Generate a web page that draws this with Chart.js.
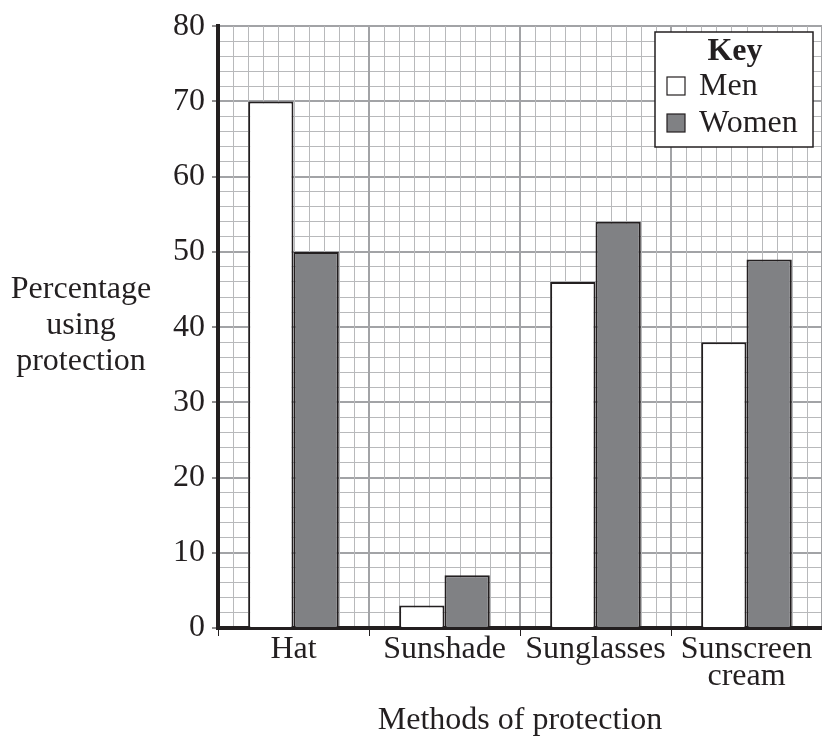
<!DOCTYPE html>
<html>
<head>
<meta charset="utf-8">
<script src="https://cdn.jsdelivr.net/npm/chart.js@4"></script>
<style>
  html, body { margin: 0; padding: 0; background: #fff; }
  #wrap { width: 822px; height: 742px; }
</style>
</head>
<body>
<div id="wrap"><canvas id="chart" width="822" height="742"></canvas></div>
<script>
// chart data
const categories = ['Hat', 'Sunshade', 'Sunglasses', ['Sunscreen', 'cream']];
const menValues = [70, 3, 46, 38];
const womenValues = [50, 7, 54, 49];
const seriesNames = ['Men', 'Women'];
const yTitleLines = ['Percentage', 'using', 'protection'];
const xTitle = 'Methods of protection';
const keyTitle = 'Key';

const INK = '#231f20';
const FONT = "'Liberation Serif', 'Times New Roman', serif";
const MINOR = '#b8b9bb';
const MAJOR = '#a2a3a6';
const CELLS_PER_CATEGORY = 10;

// vertical squared-paper lines, split from the category scale
const paperGrid = {
    id: 'paperGrid',
    beforeDatasetsDraw: (chart) => {
        const x = chart.scales.x;
        const area = chart.chartArea;
        const ctx = chart.ctx;
        const step = x.getPixelForValue(1) - x.getPixelForValue(0);
        ctx.save();
        for (let i = 0; i < categories.length; i++) {
            const left = x.getPixelForValue(i) - step / 2;
            for (let j = 1; j <= CELLS_PER_CATEGORY; j++) {
                const major = j === CELLS_PER_CATEGORY;
                const px = Math.round(left + step * j / CELLS_PER_CATEGORY) + (major ? 0 : 0.5);
                ctx.strokeStyle = major ? MAJOR : MINOR;
                ctx.lineWidth = major ? 2 : 1;
                ctx.beginPath();
                ctx.moveTo(px, area.top);
                ctx.lineTo(px, area.bottom - 2);
                ctx.stroke();
            }
        }
        ctx.restore();
    }
};

// Y title (horizontal, three lines) and the "Key" box
const extras = {
    id: 'extras',
    afterDatasetsDraw: (chart) => {
        const ctx = chart.ctx;
        ctx.save();
        ctx.fillStyle = INK;
        ctx.font = '32px ' + FONT;
        ctx.textAlign = 'center';
        ctx.textBaseline = 'alphabetic';
        const base = [298, 334, 370];
        yTitleLines.forEach((t, i) => ctx.fillText(t, 81, base[i]));

        // key box
        ctx.fillStyle = '#fff';
        ctx.fillRect(655, 32, 158, 115);
        ctx.strokeStyle = INK;
        ctx.lineWidth = 1.5;
        ctx.strokeRect(655, 32, 158, 115);
        ctx.fillStyle = INK;
        ctx.font = 'bold 32px ' + FONT;
        ctx.fillText(keyTitle, 735, 60);
        ctx.font = '32px ' + FONT;
        ctx.textAlign = 'left';
        chart.data.datasets.forEach((ds, i) => {
            const y = 77 + i * 37;
            ctx.fillStyle = ds.backgroundColor;
            ctx.fillRect(667, y, 18, 18);
            ctx.lineWidth = 1.2;
            ctx.strokeStyle = INK;
            ctx.strokeRect(667, y, 18, 18);
            ctx.fillStyle = INK;
            ctx.fillText(ds.label, 699, y + 18);
        });
        ctx.restore();
    }
};

new Chart(document.getElementById('chart'), {
    type: 'bar',
    data: {
        labels: categories,
        datasets: [
            {
                label: seriesNames[0],
                data: menValues,
                backgroundColor: '#ffffff',
                borderColor: INK,
                borderWidth: 2,
                categoryPercentage: 0.6,
                barPercentage: 1.0
            },
            {
                label: seriesNames[1],
                data: womenValues,
                backgroundColor: '#808184',
                borderColor: INK,
                borderWidth: 2,
                categoryPercentage: 0.6,
                barPercentage: 1.0
            }
        ]
    },
    options: {
        responsive: false,
        animation: false,
        layout: { padding: { left: 0, right: 0, top: 24, bottom: 0 } },
        plugins: {
            legend: { display: false },
            tooltip: { enabled: false }
        },
        scales: {
            x: {
                type: 'category',
                position: 'bottom',
                afterFit: (s) => { s.height = 114; },
                grid: {
                    drawOnChartArea: false,
                    offset: true,
                    color: INK,
                    tickLength: 8,
                    lineWidth: 1
                },
                border: { color: INK, width: 4 },
                ticks: {
                    color: INK,
                    padding: 0,
                    maxRotation: 0,
                    autoSkip: false,
                    font: { family: FONT, size: 32, lineHeight: 0.85 }
                },
                title: {
                    display: true,
                    text: xTitle,
                    color: INK,
                    font: { family: FONT, size: 32 },
                    padding: { top: 0, bottom: 2 }
                }
            },
            y: {
                min: 0,
                max: 80,
                afterFit: (s) => { s.width = 218; },
                border: { color: INK, width: 4 },
                grid: {
                    color: (c) => c.tick && c.tick.value % 10 === 0 ? MAJOR : MINOR,
                    lineWidth: (c) => c.tick && c.tick.value % 10 === 0 ? 2 : 1,
                    tickLength: 6,
                    tickColor: (c) => c.tick && c.tick.value % 10 === 0 ? INK : 'rgba(0,0,0,0)',
                    tickWidth: 1
                },
                ticks: {
                    stepSize: 2,
                    autoSkip: false,
                    padding: 7,
                    color: INK,
                    font: { family: FONT, size: 32 },
                    callback: (v) => v % 10 === 0 ? String(v) : ''
                }
            }
        }
    },
    plugins: [paperGrid, extras]
});
</script>
</body>
</html>
